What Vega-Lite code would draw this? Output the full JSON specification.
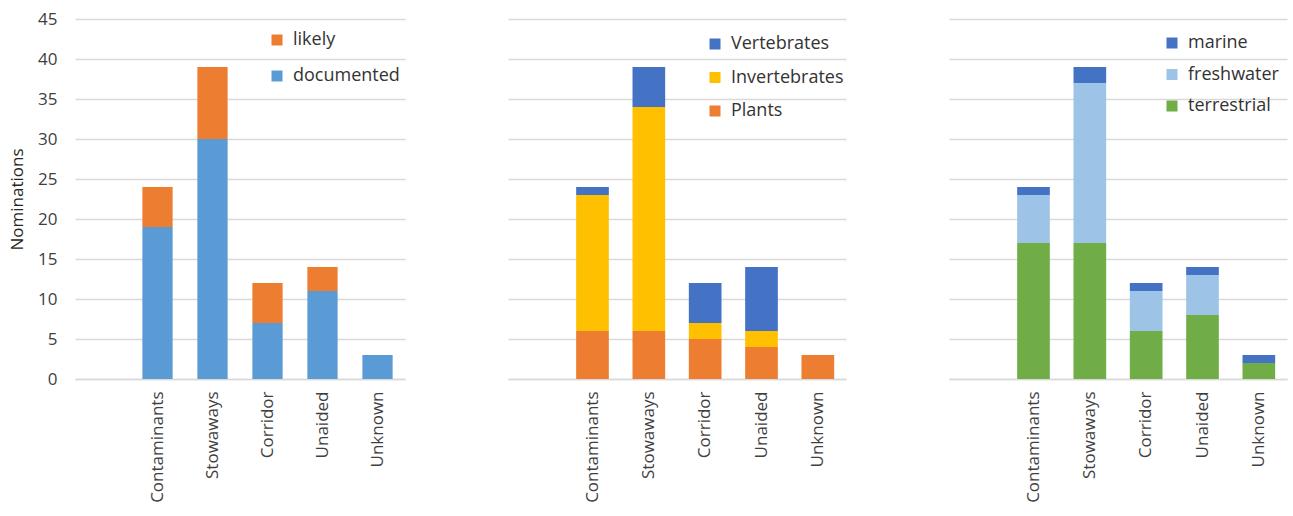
{
  "$schema": "https://vega.github.io/schema/vega-lite/v6.json",
  "background": "white",
  "padding": {"left": 8, "top": 10, "right": 4, "bottom": 2},
  "config": {
    "font": "Open Sans",
    "view": {"stroke": null},
    "axis": {
      "labelColor": "#404040",
      "titleColor": "#262626",
      "labelFont": "Open Sans",
      "titleFont": "Open Sans",
      "gridColor": "#D9D9D9",
      "gridWidth": 1.5,
      "domainColor": "#D9D9D9",
      "domainWidth": 1.5,
      "ticks": false
    },
    "legend": {
      "labelFont": "Open Sans",
      "labelColor": "#333333",
      "labelFontSize": 18,
      "symbolType": "square",
      "symbolSize": 121,
      "symbolStrokeWidth": 0,
      "symbolOpacity": 1,
      "labelOffset": 7,
      "orient": "none",
      "title": null
    },
    "bar": {"stroke": null}
  },
  "datasets": {
    "status": [
      {"pathway": "Contaminants", "group": "documented", "n": 19},
      {"pathway": "Contaminants", "group": "likely", "n": 5},
      {"pathway": "Stowaways", "group": "documented", "n": 30},
      {"pathway": "Stowaways", "group": "likely", "n": 9},
      {"pathway": "Corridor", "group": "documented", "n": 7},
      {"pathway": "Corridor", "group": "likely", "n": 5},
      {"pathway": "Unaided", "group": "documented", "n": 11},
      {"pathway": "Unaided", "group": "likely", "n": 3},
      {"pathway": "Unknown", "group": "documented", "n": 3}
    ],
    "taxon": [
      {"pathway": "Contaminants", "group": "Plants", "n": 6},
      {"pathway": "Contaminants", "group": "Invertebrates", "n": 17},
      {"pathway": "Contaminants", "group": "Vertebrates", "n": 1},
      {"pathway": "Stowaways", "group": "Plants", "n": 6},
      {"pathway": "Stowaways", "group": "Invertebrates", "n": 28},
      {"pathway": "Stowaways", "group": "Vertebrates", "n": 5},
      {"pathway": "Corridor", "group": "Plants", "n": 5},
      {"pathway": "Corridor", "group": "Invertebrates", "n": 2},
      {"pathway": "Corridor", "group": "Vertebrates", "n": 5},
      {"pathway": "Unaided", "group": "Plants", "n": 4},
      {"pathway": "Unaided", "group": "Invertebrates", "n": 2},
      {"pathway": "Unaided", "group": "Vertebrates", "n": 8},
      {"pathway": "Unknown", "group": "Plants", "n": 3}
    ],
    "habitat": [
      {"pathway": "Contaminants", "group": "terrestrial", "n": 17},
      {"pathway": "Contaminants", "group": "freshwater", "n": 6},
      {"pathway": "Contaminants", "group": "marine", "n": 1},
      {"pathway": "Stowaways", "group": "terrestrial", "n": 17},
      {"pathway": "Stowaways", "group": "freshwater", "n": 20},
      {"pathway": "Stowaways", "group": "marine", "n": 2},
      {"pathway": "Corridor", "group": "terrestrial", "n": 6},
      {"pathway": "Corridor", "group": "freshwater", "n": 5},
      {"pathway": "Corridor", "group": "marine", "n": 1},
      {"pathway": "Unaided", "group": "terrestrial", "n": 8},
      {"pathway": "Unaided", "group": "freshwater", "n": 5},
      {"pathway": "Unaided", "group": "marine", "n": 1},
      {"pathway": "Unknown", "group": "terrestrial", "n": 2},
      {"pathway": "Unknown", "group": "marine", "n": 1}
    ]
  },
  "spacing": 103,
  "resolve": {"scale": {"color": "independent", "x": "independent", "y": "independent"}},
  "hconcat": [
    {
      "width": 330,
      "height": 360,
      "data": {"name": "status"},
      "transform": [{"calculate": "indexof(['documented', 'likely'], datum.group)", "as": "stackOrder"}],
      "mark": {"type": "bar"},
      "encoding": {
        "x": {
          "field": "pathway", "type": "nominal",
          "scale": {"domain": [" ", "Contaminants", "Stowaways", "Corridor", "Unaided", "Unknown"], "paddingInner": 0.45, "paddingOuter": 0.225},
          "axis": {"title": null, "labelAngle": -90, "labelFontSize": 17, "labelPadding": 12}
        },
        "y": {
          "field": "n", "type": "quantitative", "stack": "zero",
          "scale": {"domain": [0, 45], "nice": false},
          "axis": {"values": [0, 5, 10, 15, 20, 25, 30, 35, 40, 45], "title": "Nominations", "titleFontSize": 17, "titleFontWeight": "normal", "labelFontSize": 17, "labelPadding": 18, "titlePadding": 11, "domain": false}
        },
        "order": {"field": "stackOrder", "type": "quantitative", "sort": "ascending"},
        "color": {
          "field": "group", "type": "nominal",
          "scale": {"domain": ["likely", "documented"], "range": ["#ED7D31", "#5B9BD5"]},
          "legend": {"legendX": 193, "legendY": 12, "rowPadding": 18}
        }
      }
    },
    {
      "width": 338,
      "height": 360,
      "data": {"name": "taxon"},
      "transform": [{"calculate": "indexof(['Plants', 'Invertebrates', 'Vertebrates'], datum.group)", "as": "stackOrder"}],
      "mark": {"type": "bar"},
      "encoding": {
        "x": {
          "field": "pathway", "type": "nominal",
          "scale": {"domain": [" ", "Contaminants", "Stowaways", "Corridor", "Unaided", "Unknown"], "paddingInner": 0.42, "paddingOuter": 0.21},
          "axis": {"title": null, "labelAngle": -90, "labelFontSize": 17, "labelPadding": 12}
        },
        "y": {
          "field": "n", "type": "quantitative", "stack": "zero",
          "scale": {"domain": [0, 45], "nice": false},
          "axis": {"values": [0, 5, 10, 15, 20, 25, 30, 35, 40, 45], "title": null, "labels": false, "domain": false}
        },
        "order": {"field": "stackOrder", "type": "quantitative", "sort": "ascending"},
        "color": {
          "field": "group", "type": "nominal",
          "scale": {"domain": ["Vertebrates", "Invertebrates", "Plants"], "range": ["#4472C4", "#FFC000", "#ED7D31"]},
          "legend": {"legendX": 198, "legendY": 16, "rowPadding": 15.5}
        }
      }
    },
    {
      "width": 338,
      "height": 360,
      "data": {"name": "habitat"},
      "transform": [{"calculate": "indexof(['terrestrial', 'freshwater', 'marine'], datum.group)", "as": "stackOrder"}],
      "mark": {"type": "bar"},
      "encoding": {
        "x": {
          "field": "pathway", "type": "nominal",
          "scale": {"domain": [" ", "Contaminants", "Stowaways", "Corridor", "Unaided", "Unknown"], "paddingInner": 0.42, "paddingOuter": 0.21},
          "axis": {"title": null, "labelAngle": -90, "labelFontSize": 17, "labelPadding": 12}
        },
        "y": {
          "field": "n", "type": "quantitative", "stack": "zero",
          "scale": {"domain": [0, 45], "nice": false},
          "axis": {"values": [0, 5, 10, 15, 20, 25, 30, 35, 40, 45], "title": null, "labels": false, "domain": false}
        },
        "order": {"field": "stackOrder", "type": "quantitative", "sort": "ascending"},
        "color": {
          "field": "group", "type": "nominal",
          "scale": {"domain": ["marine", "freshwater", "terrestrial"], "range": ["#4472C4", "#9DC3E6", "#70AD47"]},
          "legend": {"legendX": 214, "legendY": 15, "rowPadding": 13.5}
        }
      }
    }
  ]
}
